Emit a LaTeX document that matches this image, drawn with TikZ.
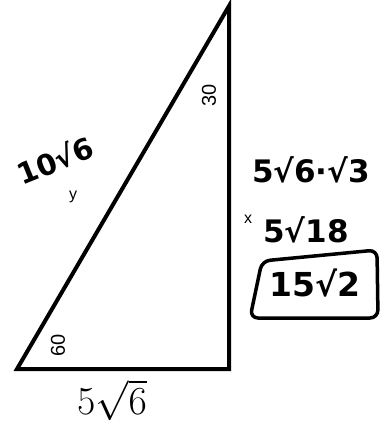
\documentclass[tikz,border=0pt]{standalone}
\usepackage{fontspec}
\setsansfont{Liberation Sans}
\newfontfamily\handfont{DejaVu Sans}
\begin{document}
\begin{tikzpicture}[x=1pt,y=-1pt,
  printed/.style={font=\sffamily\fontsize{20}{20}\selectfont, inner sep=0pt},
  smalllbl/.style={font=\sffamily\fontsize{16}{16}\selectfont, inner sep=0pt},
  hand/.style={font=\handfont\bfseries\fontsize{31}{31}\selectfont, inner sep=0pt}]
\useasboundingbox[fill=white] (0,0) rectangle (380,425);
\coordinate (A) at (17,369);
\coordinate (B) at (229,369);
\coordinate (C) at (229,6);
\draw[line width=4pt, line join=miter] (A) -- (B) -- (C) -- cycle;
% printed labels
\node[printed, rotate=90] (a60) at (58,345) {60};
\node[printed, rotate=90] (a30) at (209,95) {30};
\node[inner sep=0pt, scale=2.3, font=\LARGE] (base) at (112,400) {$5\sqrt{6}$};
\node[smalllbl] (ly) at (73,197) {y};
\node[smalllbl] (lx) at (248,219) {x};
% handwritten
\node[hand, rotate=22, font=\handfont\bfseries\fontsize{29}{29}\selectfont] (hyp) at (55,160) {10√6};
\node[hand] (prod) at (311,170) {5√6·√3};
\node[hand] (simp) at (306,230) {5√18};
\node[hand, font=\handfont\bfseries\fontsize{33}{33}\selectfont] (ans) at (315,283) {15√2};
\draw[line width=3.5pt, line join=round, rounded corners=8pt] (250,318) -- (262,261) -- (377,250) -- (378,318) -- cycle;
\end{tikzpicture}
\end{document}
